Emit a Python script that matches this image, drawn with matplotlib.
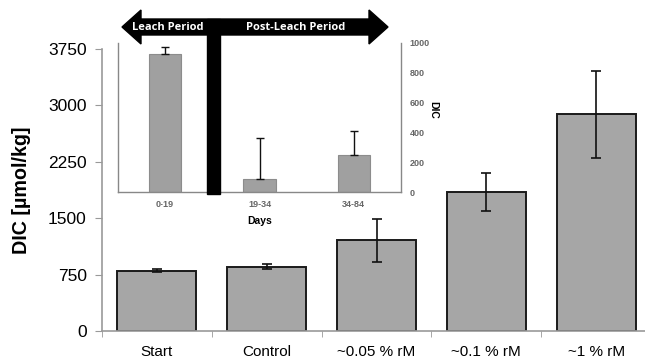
"""
DIC by treatment, with inset of leach / post-leach DIC by days.
"""

import numpy as np
import matplotlib.pyplot as plt
from matplotlib.patches import Polygon, Rectangle

# main chart data
categories = ["Start", "Control", "~0.05 % rM", "~0.1 % rM", "~1 % rM"]
dic_values = [800, 855, 1205, 1850, 2880]
dic_errors = [20, 35, 285, 250, 580]
main_yticks = [0, 750, 1500, 2250, 3000, 3750]

# inset data
day_labels = ["0-19", "19-34", "34-84"]
inset_values = [925, 85, 245]
inset_errors_up = [50, 275, 165]
inset_yticks = [0, 200, 400, 600, 800, 1000]

W, H = 645, 358
fig = plt.figure(figsize=(W / 100, H / 100), dpi=100)
plt.rcParams['font.family'] = ['Liberation Sans', 'DejaVu Sans']


def px(x, y):
    # pixel coords (from top-left) -> figure fraction
    return (x / W, 1 - y / H)


# ---------- main axes ----------
ax = fig.add_axes([102 / W, 1 - 331 / H, (651 - 102) / W, (331 - 49) / H])
x = np.arange(len(categories))
ax.bar(x, dic_values, width=0.72, color='#a6a6a6', edgecolor='#1a1a1a', linewidth=1.4,
       yerr=dic_errors, error_kw=dict(ecolor='#111111', elinewidth=1.2, capsize=3.5, capthick=1.2),
       zorder=2)
ax.set_xlim(-0.5, len(categories) - 0.5)
ax.set_ylim(0, 3750)
ax.set_yticks(main_yticks)
ax.set_yticklabels([str(v) for v in main_yticks], fontsize=12.5)
ax.set_xticks(x)
ax.set_xticklabels(categories, fontsize=11)
ax.set_xticks(np.arange(len(categories) + 1) - 0.5, minor=True)
ax.tick_params(axis='x', which='major', length=0, pad=10)
ax.tick_params(axis='x', which='minor', length=4, color='#999999', direction='out')
ax.tick_params(axis='y', length=5, color='#999999', pad=6)
for s in ['top', 'right']:
    ax.spines[s].set_visible(False)
for s in ['left', 'bottom']:
    ax.spines[s].set_color('#999999')
    ax.spines[s].set_linewidth(1.2)
ax.set_ylabel("DIC [µmol/kg]", fontsize=14.2, fontweight='bold')
ax.yaxis.set_label_coords(-71 / 549, 0.5)

# ---------- inset axes ----------
ins = fig.add_axes([118 / W, 1 - 192 / H, (401 - 118) / W, (192 - 43) / H])
xi = np.arange(len(day_labels))
ins.bar(xi, inset_values, width=0.34, color='#a0a0a0', edgecolor='#8c8c8c', linewidth=0.8,
        yerr=[np.zeros(len(xi)), inset_errors_up],
        error_kw=dict(ecolor='#111111', elinewidth=1.0, capsize=3, capthick=1.0), zorder=2)
ins.set_xlim(-0.5, len(day_labels) - 0.5)
ins.set_ylim(0, 1000)
ins.set_yticks(inset_yticks)
ins.yaxis.tick_right()
ins.yaxis.set_label_position('right')
ins.set_yticklabels([str(v) for v in inset_yticks], fontsize=6.5, fontweight='bold', color='#666666')
ins.set_xticks(xi)
ins.set_xticklabels(day_labels, fontsize=6.5, fontweight='bold', color='#666666')
ins.tick_params(axis='both', length=0, pad=6)
ins.spines['top'].set_visible(False)
for s in ['left', 'bottom', 'right']:
    ins.spines[s].set_color('#888888')
    ins.spines[s].set_linewidth(1.0)
ins.set_xlabel("Days", fontsize=7.5, fontweight='bold', labelpad=5)
ins.set_ylabel("DIC", fontsize=7.5, fontweight='bold', rotation=270, labelpad=10)
ins.yaxis.set_label_coords(1.13, 0.55)

# black stem between leach and post-leach periods
stem = Rectangle(px(207, 194), 13 / W, (194 - 19) / H, transform=fig.transFigure,
                 color='black', zorder=5)
fig.patches.append(stem)

# double headed arrow
arrow_pts = [px(122, 27), px(141, 10), px(141, 19), px(369, 19), px(369, 10), px(388, 27),
             px(369, 44), px(369, 35), px(141, 35), px(141, 44)]
fig.patches.append(Polygon(arrow_pts, closed=True, transform=fig.transFigure,
                           facecolor='black', edgecolor='black', zorder=5))
fig.text(*px(168, 27), "Leach Period", color='white', fontsize=8, fontweight='bold',
         ha='center', va='center', family=['Open Sans', 'DejaVu Sans'], zorder=10)
fig.text(*px(296, 27), "Post-Leach Period", color='white', fontsize=8, fontweight='bold',
         ha='center', va='center', family=['Open Sans', 'DejaVu Sans'], zorder=10)

fig.savefig("out.png", dpi=100)
